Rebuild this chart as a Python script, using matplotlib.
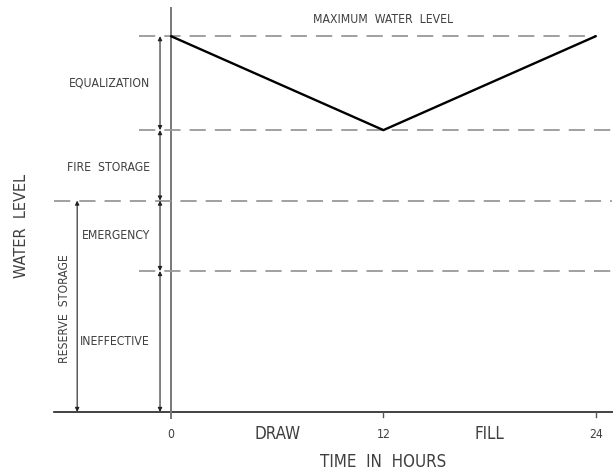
import matplotlib
matplotlib.use("Agg")
import matplotlib.pyplot as plt
from matplotlib import font_manager as fm

# ---- data ----
hours = [0, 12, 24]
water_level = [8, 6, 8]           # drawdown curve
level_bounds = [0, 3, 4.5, 6, 8]  # ineffective / emergency / fire / equalization / max
zone_labels = ["INEFFECTIVE", "EMERGENCY", "FIRE  STORAGE", "EQUALIZATION"]
tick_hours = [0, 12, 24]
tick_labels = ["0", "12", "24"]
period_labels = ["DRAW", "FILL"]
period_pos = [6, 18]

# ---- font choice: prefer a condensed face ----
entries = fm.fontManager.ttflist
names = {f.name for f in entries}
stretch = "normal"
if "Liberation Sans Narrow" in names:
    font = "Liberation Sans Narrow"
elif any(f.name == "DejaVu Sans" and str(f.stretch) in ("condensed", "semi-condensed", "600", "500")
         for f in entries):
    font = "DejaVu Sans"
    stretch = "condensed"
elif "Roboto Condensed" in names:
    font = "Roboto Condensed"
else:
    font = "Liberation Sans"
plt.rcParams['font.family'] = [font, 'DejaVu Sans']

TXT = "#3f3f3f"
fig = plt.figure(figsize=(6.13, 4.73), dpi=100)
ax = fig.add_axes([0, 0, 1, 1])
ax.set_xlim(-9.66, 24.97)
ax.set_ylim(-1.30, 8.77)
ax.axis("off")
renderer = fig.canvas.get_renderer()


def fit_size(label, target_px):
    t = ax.text(0, 0, label, fontsize=10, fontstretch=stretch)
    bb = t.get_window_extent(renderer)
    t.remove()
    return 10 * target_px / bb.width


BOOST = 1.15
small = fit_size("EQUALIZATION", 70) * BOOST
large = fit_size("TIME  IN  HOURS", 110) * BOOST
wl = fit_size("WATER  LEVEL", 91) * BOOST
tk = small


def txt(x, y, s, size, **kw):
    ax.text(x, y, s, fontsize=size, color=TXT, fontstretch=stretch, **kw)


# axes
ax.plot([-6.6, 25.2], [0, 0], color="#222222", lw=1.2, clip_on=False)
ax.plot([0, 0], [-0.13, 8.6], color="#777777", lw=1.4)
for h in tick_hours[1:]:
    ax.plot([h, h], [0, -0.1], color="#555555", lw=1.0)

# dashed level lines
dash = dict(color="#999999", lw=1.3, dashes=(9, 5))
ax.plot([-1.8, 24], [level_bounds[4]] * 2, **dash)
ax.plot([-1.8, 24.9], [level_bounds[3]] * 2, **dash)
ax.plot([-6.6, 24.9], [level_bounds[2]] * 2, **dash)
ax.plot([-1.8, 24.9], [level_bounds[1]] * 2, **dash)

# drawdown line
ax.plot(hours, water_level, color="black", lw=1.7, solid_capstyle="round")


# dimension arrows
def dim(x, y0, y1):
    ax.annotate("", xy=(x, y0), xytext=(x, y1),
                arrowprops=dict(arrowstyle="<|-|>", color="#222222", lw=0.8,
                                mutation_scale=6, shrinkA=0, shrinkB=0))


xd = -0.62
for i in range(4):
    dim(xd, level_bounds[i], level_bounds[i + 1])
dim(-5.3, level_bounds[0], level_bounds[2])

# zone labels
label_y = [1.5, 3.75, 5.2, 7.0]
for lab, y in zip(zone_labels, label_y):
    txt(-1.18, y, lab, small, ha="right", va="center")

txt(12, 8.35, "MAXIMUM  WATER  LEVEL", small, ha="center", va="center")
txt(-6.0, 2.2, "RESERVE  STORAGE", small, ha="center", va="center", rotation=90)
txt(-8.45, 3.97, "WATER  LEVEL", wl, ha="center", va="center", rotation=90)

for h, lab in zip(tick_hours, tick_labels):
    txt(h, -0.47, lab, tk, ha="center", va="center")
for p, lab in zip(period_pos, period_labels):
    txt(p, -0.47, lab, large, ha="center", va="center")
txt(12, -1.07, "TIME  IN  HOURS", large, ha="center", va="center")

fig.savefig("out.png", dpi=100, facecolor="white")
